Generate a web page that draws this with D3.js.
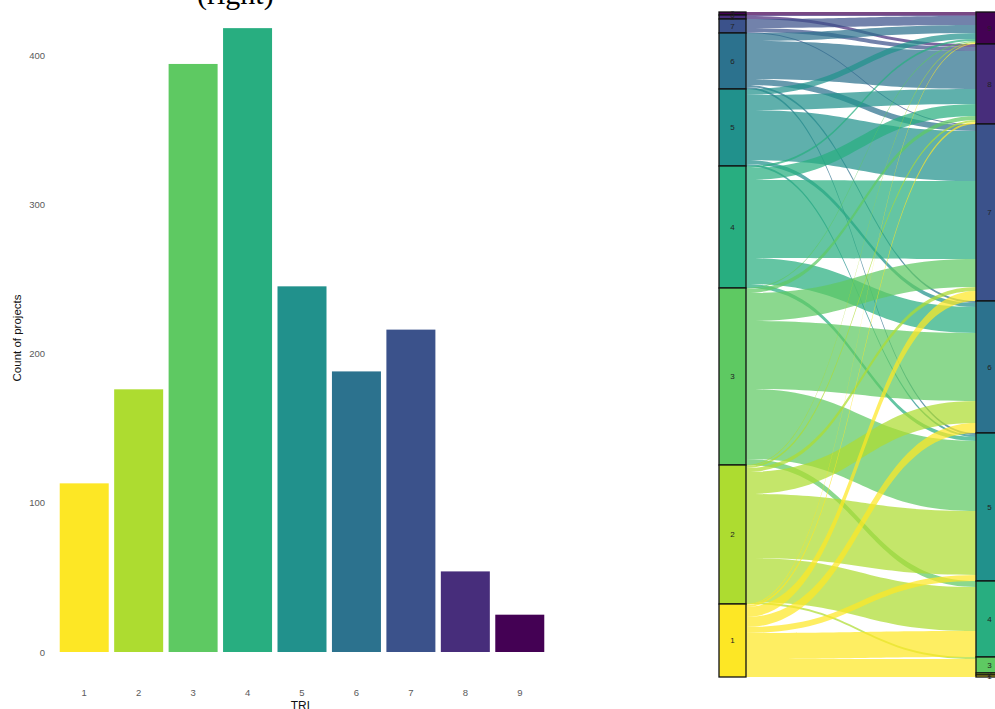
<!DOCTYPE html>
<html><head><meta charset="utf-8">
<script src="https://cdn.jsdelivr.net/npm/d3@7"></script>
<style>body{margin:0;background:#fff} svg{display:block}</style>
</head><body>
<svg id="c" width="995" height="709"></svg>
<script>
// ---- data ----
const trlLevels = [1, 2, 3, 4, 5, 6, 7, 8, 9];
const projectCounts = [113, 176, 394, 418, 245, 188, 216, 54, 25];
const yTickValues = [0, 100, 200, 300, 400];
// alluvial flows: start TRL -> end TRL, number of projects
const flowFrom = [9, 8,8, 7,7,7, 6,6,6,6,6, 5,5,5,5,5, 4,4,4,4,4, 3,3,3,3,3,3, 2,2,2,2,2,2,2, 1,1,1,1,1,1,1,1,1];
const flowTo   = [9, 9,8, 9,8,7, 9,8,7,6,5, 9,8,7,6,5, 9,8,7,6,5, 9,8,7,6,5,4, 9,8,7,6,5,4,3, 9,8,7,6,5,4,3,2,1];
const flowN    = [3, 1,3, 9,4,1, 8,38,6,2,2, 6,15,50,4,2, 2,12,78,26,4, 1,4,28,68,70,6, 1,2,4,22,64,44,2, 1,2,10,10,6,26,14,2,2];

// ---- drawing ----
const svg = d3.select("#c");
const color = d3.scaleSequential(d3.interpolateViridis).domain([9, 1]);

// fragment of caption above the figure (clipped by the top edge)
svg.append("text").attr("x", 197).attr("y", 4)
  .attr("font-family", "Liberation Serif").attr("font-size", 30).attr("fill", "#000")
  .text("(right)");

// bar chart
const x = d3.scaleBand().domain(trlLevels).range([57, 547]).paddingInner(0.1).paddingOuter(0.05);
const y = d3.scaleLinear().domain([0, 400]).range([652, 55]);

svg.append("g").selectAll("rect").data(trlLevels).join("rect")
  .attr("x", d => x(d)).attr("width", x.bandwidth())
  .attr("y", (d, i) => y(projectCounts[i]))
  .attr("height", (d, i) => y(0) - y(projectCounts[i]))
  .attr("fill", d => color(d));

const gy = svg.append("g").attr("transform", "translate(57,0)")
  .call(d3.axisLeft(y).tickValues(yTickValues).tickSize(0).tickPadding(12));
gy.select(".domain").remove();
gy.selectAll("text").attr("font-family", "Liberation Sans").attr("font-size", 9.5).attr("fill", "#5a5a5a");

const gx = svg.append("g").attr("transform", "translate(0,652)")
  .call(d3.axisBottom(x).tickSize(0).tickPadding(37));
gx.select(".domain").remove();
gx.selectAll("text").attr("font-family", "Liberation Sans").attr("font-size", 9.5).attr("fill", "#5a5a5a");

svg.append("text").attr("x", 302).attr("y", 710)
  .attr("text-anchor", "middle").attr("font-family", "Liberation Sans").attr("font-size", 12)
  .attr("fill", "#111").text("TRL");
svg.append("text").attr("transform", "translate(21,338) rotate(-90)")
  .attr("text-anchor", "middle").attr("font-family", "Liberation Sans").attr("font-size", 11.5)
  .attr("fill", "#111").text("Count of projects");

// alluvial diagram
const order = [9, 8, 7, 6, 5, 4, 3, 2, 1]; // top to bottom
const flows = flowN.map((n, i) => ({ from: flowFrom[i], to: flowTo[i], n }));
const total = d3.sum(flowN);
const ys = d3.scaleLinear().domain([0, total]).range([12, 677]);
const xL0 = 719, xL1 = 746, xR0 = 976, xR1 = 1003;
const rank = s => order.indexOf(s);

function strata(key) {
  let acc = 0;
  return order.map(s => {
    const n = d3.sum(flows.filter(f => f[key] === s), f => f.n);
    const o = { s, y0: acc, y1: acc + n }; acc += n; return o;
  });
}
const leftS = strata("from"), rightS = strata("to");

// lode positions at left (sorted by destination) and right (sorted by origin)
leftS.forEach(st => {
  let acc = st.y0;
  flows.filter(f => f.from === st.s).sort((a, b) => rank(a.to) - rank(b.to))
    .forEach(f => { f.l0 = acc; acc += f.n; f.l1 = acc; });
});
rightS.forEach(st => {
  let acc = st.y0;
  flows.filter(f => f.to === st.s).sort((a, b) => rank(a.from) - rank(b.from))
    .forEach(f => { f.r0 = acc; acc += f.n; f.r1 = acc; });
});

function ribbon(f) {
  const x0 = xL1, x1 = xR0, xm = x0 + (x1 - x0) * 0.5;
  const a0 = ys(f.l0), b0 = ys(f.l1), a1 = ys(f.r0), b1 = ys(f.r1);
  return `M${x0},${a0}C${xm},${a0} ${xm},${a1} ${x1},${a1}L${x1},${b1}C${xm},${b1} ${xm},${b0} ${x0},${b0}Z`;
}

svg.append("g").selectAll("path").data(flows).join("path")
  .attr("d", ribbon).attr("fill", d => color(d.from)).attr("fill-opacity", 0.72)
  .attr("stroke", "none");

function drawStrata(list, x0, x1) {
  const g = svg.append("g");
  g.selectAll("rect").data(list).join("rect")
    .attr("x", x0).attr("width", x1 - x0)
    .attr("y", d => ys(d.y0)).attr("height", d => ys(d.y1) - ys(d.y0))
    .attr("fill", d => color(d.s)).attr("stroke", "#111").attr("stroke-width", 1.3);
  g.selectAll("text").data(list).join("text")
    .attr("x", (x0 + x1) / 2).attr("y", d => (ys(d.y0) + ys(d.y1)) / 2)
    .attr("dy", "0.35em").attr("text-anchor", "middle")
    .attr("font-family", "Liberation Sans").attr("font-size", 8).attr("fill", "#222")
    .text(d => d.s);
}
drawStrata(leftS, xL0, xL1);
drawStrata(rightS, xR0, xR1);
</script>
</body></html>
